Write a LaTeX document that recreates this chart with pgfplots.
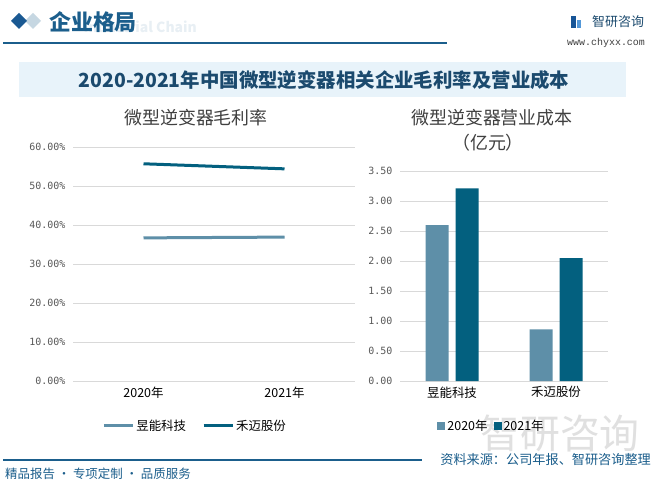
\documentclass[border=0pt]{standalone}
\usepackage{pgfplots}
\pgfplotsset{compat=1.18}
\usepackage{fontspec}
\setmainfont{Noto Sans CJK SC}
\newfontfamily\mono{DejaVu Sans Mono}
\newfontfamily\serifmono{Liberation Mono}

\definecolor{lite}{HTML}{5E8FA8}
\definecolor{dark}{HTML}{03607F}
\definecolor{hblue}{HTML}{1B5E8C}
\definecolor{banner}{HTML}{E8F3FA}
\definecolor{ttl}{HTML}{1B4A6E}
\definecolor{gridc}{HTML}{D9D9D9}
\definecolor{tickc}{HTML}{595959}

\pgfplotsset{
  panel/.style={
    scale only axis,
    xmin=-0.5, xmax=1.5,
    xtick={0,1},
    axis line style={draw=none},
    major tick length=0pt,
    ymajorgrids,
    grid style={gridc, line width=0.8bp},
    /pgf/number format/assume math mode=true,
    yticklabel style={font=\mono\fontsize{10}{10}\selectfont, text=tickc, xshift=-4bp},
    xticklabel style={font=\fontsize{12.5}{13}\selectfont, text=black, yshift=-2bp},
    legend style={draw=none, fill=none, legend columns=2,
      font=\fontsize{12.5}{13}\selectfont, inner sep=0pt,
      /tikz/every even column/.append style={column sep=14bp}},
  },
}

\begin{document}
\begin{tikzpicture}
\begin{scope}[x=1bp, y=1bp]
\useasboundingbox[fill=white] (0,0) rectangle (654,-486);

% header
\node[anchor=east, text=hblue!10, inner sep=0] at (197,-27)
  {\bfseries\fontsize{14}{14}\selectfont Industrial Chain};
\fill[hblue!25] (33,-13) -- (41,-21) -- (33,-29) -- (25,-21) -- cycle;
\fill[hblue!95!blue] (19,-13) -- (27,-21) -- (19,-29) -- (11,-21) -- cycle;
\node[anchor=west, text=hblue, inner sep=0] at (49,-22)
  {\bfseries\fontsize{22}{22}\selectfont 企业格局};
\draw[hblue, line width=1.5bp] (3,-43) -- (447,-43);
\node[anchor=west, text=ttl, inner sep=0] at (592,-22)
  {\fontsize{13}{13}\selectfont 智研咨询};
\fill[hblue!90!blue] (571,-16) rectangle (576,-28);
\fill[cyan!60!blue!70] (577,-20) rectangle (581,-28);
\node[anchor=west, text=black!75, inner sep=0] at (567,-43)
  {\serifmono\fontsize{10}{10}\selectfont www.chyxx.com};

% banner
\fill[banner] (19,-62) rectangle (626,-97);
\node[text=ttl, inner sep=0] at (324,-80)
  {\bfseries\fontsize{19.5}{20}\selectfont 2020-2021年中国微型逆变器相关企业毛利率及营业成本};

% watermark
\node[text=black!12, inner sep=0] at (560,-433)
  {\fontsize{40}{40}\selectfont 智研咨询};

% panel titles
\node[text=black!75, inner sep=0] at (196,-118)
  {\fontsize{18}{18}\selectfont 微型逆变器毛利率};
\node[text=black!75, inner sep=0] at (492,-118)
  {\fontsize{18}{18}\selectfont 微型逆变器营业成本};
\node[text=black!75, inner sep=0] at (488,-143)
  {\fontsize{18}{18}\selectfont （亿元）};

% footer
\draw[hblue, line width=1.2bp] (3,-460) -- (422,-460);
\node[anchor=west, text=hblue, inner sep=0] at (5,-474)
  {\fontsize{12.5}{13}\selectfont 精品报告 · 专项定制 · 品质服务};
\node[anchor=east, text=hblue, inner sep=0] at (651,-460)
  {\fontsize{13.2}{14}\selectfont 资料来源：公司年报、智研咨询整理};
\end{scope}

% left: gross margin
\begin{axis}[panel,
  at={(73bp,-381bp)}, anchor=south west,
  width=282bp, height=234bp,
  ymin=0, ymax=60,
  ytick={0,10,...,60},
  yticklabel={\pgfmathprintnumber[fixed,fixed zerofill,precision=2]{\tick}\%},
  xticklabels={2020年,2021年},
  legend style={at={(0.433,-0.192)}, anchor=center},
  legend image code/.code={\draw[#1] (0bp,0bp) -- (29bp,0bp);},
]
\addplot[lite, line width=3bp] coordinates {(0,36.7) (1,36.9)};
\addplot[dark, line width=3bp] coordinates {(0,55.7) (1,54.4)};
\legend{昱能科技,禾迈股份}
\end{axis}

% right: operating cost
\begin{axis}[panel,
  at={(400bp,-381bp)}, anchor=south west,
  width=208bp, height=210bp,
  ymin=0, ymax=3.5,
  ytick={0,0.5,...,3.5},
  yticklabel={\pgfmathprintnumber[fixed,fixed zerofill,precision=2]{\tick}},
  xticklabels={昱能科技,禾迈股份},
  legend style={at={(0.44,-0.214)}, anchor=center,
    /tikz/every even column/.append style={column sep=4bp}},
  legend image code/.code={\fill[#1] (0bp,-4bp) rectangle (8bp,4bp);},
]
\addplot[ybar, bar width=23bp, bar shift=-15bp, fill=lite, draw=none]
  coordinates {(0,2.60) (1,0.86)};
\addplot[ybar, bar width=23bp, bar shift=15bp, fill=dark, draw=none]
  coordinates {(0,3.21) (1,2.05)};
\legend{2020年,2021年}
\end{axis}
\end{tikzpicture}
\end{document}
